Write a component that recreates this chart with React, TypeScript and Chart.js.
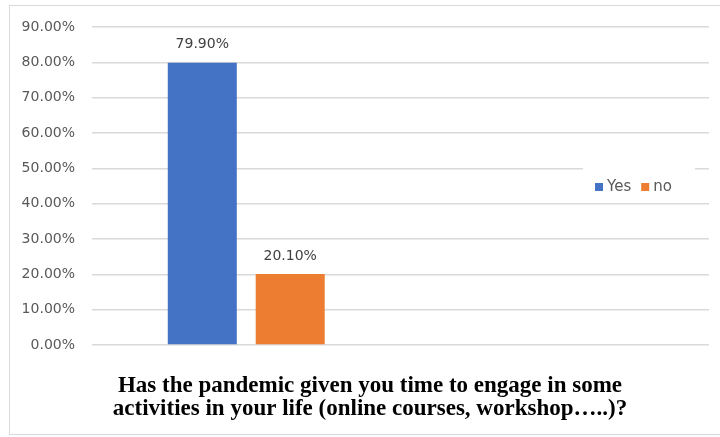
import React, { useEffect, useRef } from "react";
import { Chart, registerables } from "chart.js";

Chart.register(...registerables);

// Survey answers, in percent
const categories = ["Responses", ""];
const seriesNames = ["Yes", "no"];
const yesValues = [79.9, null];
const noValues = [20.1, null];
const seriesColors = ["#4472C4", "#ED7D31"];
const titleLines = [
  "Has the pandemic given you time to engage in some",
  "activities in your life (online courses, workshop…..)?",
];

const LABEL_FONT = "14px 'DejaVu Sans'";
const LEGEND_FONT = "15px 'DejaVu Sans'";
const TITLE_FONT = "bold 23px 'Liberation Serif'";
const TEXT_GREY = "#595959";

const fmt = (v: number) => v.toFixed(2) + "%";

// Value labels above each bar
const valueLabels = {
  id: "valueLabels",
  afterDatasetsDraw(chart: any) {
    const ctx = chart.ctx;
    ctx.save();
    ctx.font = LABEL_FONT;
    ctx.fillStyle = "#404040";
    ctx.textAlign = "center";
    ctx.textBaseline = "middle";
    chart.data.datasets.forEach((ds: any, i: number) => {
      const meta = chart.getDatasetMeta(i);
      meta.data.forEach((el: any, j: number) => {
        const v = ds.data[j];
        if (v == null) return;
        ctx.fillText(fmt(v), el.x, el.y - 18);
      });
    });
    ctx.restore();
  },
};

// Legend box sitting inside the plot, on the right, over the grid lines
const insideLegend = {
  id: "insideLegend",
  afterDraw(chart: any) {
    const { ctx, chartArea } = chart;
    ctx.save();
    ctx.font = LEGEND_FONT;
    const sq = 8;
    const gapSq = 4;
    const gapItem = 10;
    const widths = chart.data.datasets.map(
      (ds: any) => sq + gapSq + ctx.measureText(ds.label).width
    );
    const boxLeft = chartArea.right - 126;
    const boxRight = chartArea.right - 14;
    const cy = (chartArea.top + chartArea.bottom) / 2 + 1;
    ctx.fillStyle = "#ffffff";
    ctx.fillRect(boxLeft, cy - 28, boxRight - boxLeft, 41);
    let x = boxLeft + 12;
    ctx.textBaseline = "middle";
    ctx.textAlign = "left";
    chart.data.datasets.forEach((ds: any, i: number) => {
      ctx.fillStyle = ds.backgroundColor;
      ctx.fillRect(x, cy - sq / 2, sq, sq);
      ctx.fillStyle = TEXT_GREY;
      ctx.fillText(ds.label, x + sq + gapSq, cy);
      x += widths[i] + gapItem;
    });
    ctx.restore();
  },
};

// Two-line bold question under the plot
const bottomTitle = {
  id: "bottomTitle",
  afterDraw(chart: any) {
    const { ctx, chartArea } = chart;
    ctx.save();
    ctx.font = TITLE_FONT;
    ctx.fillStyle = "#000000";
    ctx.textAlign = "center";
    ctx.textBaseline = "alphabetic";
    const cx = (chart.width + 20) / 2;
    titleLines.forEach((line, i) => {
      ctx.fillText(line, cx, chartArea.bottom + 47 + i * 23);
    });
    ctx.restore();
  },
};

export default function App() {
  const canvasRef = useRef<HTMLCanvasElement | null>(null);

  useEffect(() => {
    if (!canvasRef.current) return;
    const chart = new Chart(canvasRef.current, {
      type: "bar",
      data: {
        labels: categories,
        datasets: [
          {
            label: seriesNames[0],
            data: yesValues,
            backgroundColor: seriesColors[0],
            categoryPercentage: 0.57,
            barPercentage: 0.785,
          },
          {
            label: seriesNames[1],
            data: noValues,
            backgroundColor: seriesColors[1],
            categoryPercentage: 0.57,
            barPercentage: 0.785,
          },
        ],
      },
      options: {
        responsive: false,
        animation: false,
        layout: { padding: { left: 10, right: 11, top: 27, bottom: 92 } },
        plugins: {
          legend: { display: false },
          tooltip: { enabled: false },
          title: { display: false },
        },
        scales: {
          x: { display: false },
          y: {
            min: 0,
            max: 90,
            ticks: {
              stepSize: 10,
              padding: 17,
              color: TEXT_GREY,
              font: { family: "'DejaVu Sans'", size: 14 },
              callback: (v: any) => fmt(Number(v)),
            },
            grid: { color: "#d9d9d9", lineWidth: 1.5, drawTicks: false },
            border: { display: false },
            afterFit: (scale: any) => {
              scale.width = 82;
            },
          },
        },
      },
      plugins: [valueLabels, insideLegend, bottomTitle],
    });
    return () => chart.destroy();
  }, []);

  return (
    <div style={{ position: "fixed", left: 0, top: 0, width: 720, height: 437, background: "#ffffff" }}>
      <div
        style={{
          position: "absolute",
          left: 9,
          top: 5,
          width: 711,
          height: 430,
          borderTop: "1px solid #d9d9d9",
          borderLeft: "1px solid #d9d9d9",
          borderBottom: "1px solid #d9d9d9",
          boxSizing: "border-box",
        }}
      />
      <canvas
        ref={canvasRef}
        width={720}
        height={437}
        style={{ position: "absolute", left: 0, top: 0, display: "block" }}
      />
    </div>
  );
}
